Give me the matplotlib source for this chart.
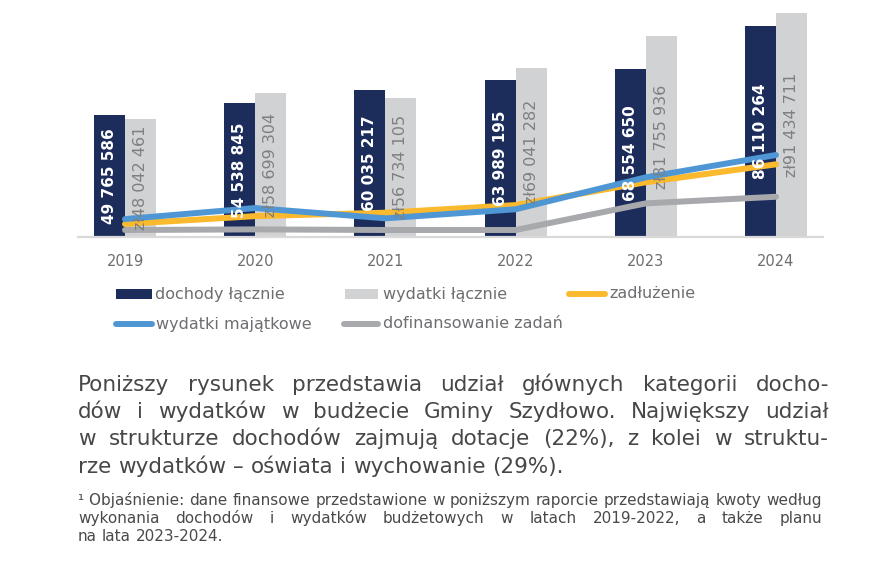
import numpy as np
import matplotlib
matplotlib.use("Agg")
import matplotlib.pyplot as plt
from matplotlib.lines import Line2D
from matplotlib.patches import Rectangle

# ---------------- data ----------------
years = ["2019", "2020", "2021", "2022", "2023", "2024"]
dochody = [49765586, 54538845, 60035217, 63989195, 68554650, 86110264]
wydatki = [48042461, 58699304, 56734105, 69041282, 81755936, 91434711]
zadluzenie = [5.3e6, 8.5e6, 9.9e6, 13.0e6, 22.3e6, 29.6e6]
majatkowe = [7.3e6, 11.8e6, 7.6e6, 11.3e6, 24.3e6, 33.4e6]
dofinansowanie = [2.85e6, 3.1e6, 2.85e6, 2.85e6, 13.7e6, 16.4e6]

legend_labels = ["dochody łącznie", "wydatki łącznie", "zadłużenie",
                 "wydatki majątkowe", "dofinansowanie zadań"]

body_lines = [
    "Poniższy rysunek przedstawia udział głównych kategorii docho-",
    "dów i wydatków w budżecie Gminy Szydłowo. Największy udział",
    "w strukturze dochodów zajmują dotacje (22%), z kolei w struktu-",
    "rze wydatków – oświata i wychowanie (29%).",
]
foot_lines = [
    "¹\u00a0Objaśnienie: dane finansowe przedstawione w poniższym raporcie przedstawiają kwoty według",
    "wykonania dochodów i wydatków budżetowych w latach 2019-2022, a także planu",
    "na lata 2023-2024.",
]

# ---------------- style ----------------
NAVY = "#1c2d5c"
LIGHT = "#d1d2d3"
YELLOW = "#fbb92d"
BLUE = "#4f97d4"
GRAY = "#a7a9ac"
TXT_GRAY = "#6d6e71"
plt.rcParams["font.family"] = ["DejaVu Sans"]

W, H = 876, 576
fig = plt.figure(figsize=(W / 100, H / 100), dpi=100)


def fx(px):
    return px / W


def fy(py):
    return 1 - py / H


ax = fig.add_axes([fx(78), fy(237), fx(823) - fx(78), 237 / H])
x = np.arange(len(years))
bw = 0.238

ax.bar(x - bw / 2, dochody, bw, color=NAVY, zorder=2)
ax.bar(x + bw / 2, wydatki, bw, color=LIGHT, zorder=2)

lw = 4.3
ax.plot(x, dofinansowanie, color=GRAY, lw=lw, solid_capstyle="round", zorder=3)
ax.plot(x, zadluzenie, color=YELLOW, lw=lw, solid_capstyle="round", zorder=3)
ax.plot(x, majatkowe, color=BLUE, lw=lw, solid_capstyle="round", zorder=3)


def fmt(v):
    return f"{v:,}".replace(",", " ")


for i in range(len(years)):
    ax.text(x[i] - bw / 2, dochody[i] / 2, fmt(dochody[i]), rotation=90,
            ha="center", va="center", color="white", fontweight="bold",
            fontsize=11, zorder=5)
    ax.text(x[i] + bw / 2, wydatki[i] / 2, "zł" + fmt(wydatki[i]), rotation=90,
            ha="center", va="center", color="#7f7f7f",
            fontsize=11.5, zorder=5)

ax.set_xlim(-0.361, 5.361)
ax.set_ylim(0, 96.54e6)
ax.set_yticks([])
ax.set_xticks(x)
ax.set_xticklabels(years, color=TXT_GRAY, fontsize=10.5)
ax.tick_params(axis="x", length=0, pad=12)
for s in ["top", "left", "right"]:
    ax.spines[s].set_visible(False)
ax.spines["bottom"].set_color("#d9d9d9")
ax.spines["bottom"].set_linewidth(1.6)
ax.patch.set_alpha(0)

# ---------------- legend (manual) ----------------
leg_items = [
    ("rect", NAVY, 116, 152, 155, 294),
    ("rect", LIGHT, 345, 378, 383, 294),
    ("line", YELLOW, 569, 605, 609, 294),
    ("line", BLUE, 116, 152, 156, 324),
    ("line", GRAY, 344, 378, 383, 324),
]
for (kind, col, a, b, tx, yy), lab in zip(leg_items, legend_labels):
    if kind == "rect":
        fig.add_artist(Rectangle((fx(a), fy(yy + 5)), fx(b) - fx(a), 10 / H,
                                 transform=fig.transFigure, color=col, lw=0))
    else:
        fig.add_artist(Line2D([fx(a), fx(b)], [fy(yy), fy(yy)],
                              transform=fig.transFigure, color=col, lw=lw,
                              solid_capstyle="round"))
    fig.text(fx(tx), fy(yy), lab, ha="left", va="center", color=TXT_GRAY,
             fontsize=11.5)

# ---------------- justified text ----------------
renderer = fig.canvas.get_renderer()


def justify(lines, x0, x1, baselines, size, color):
    for li, (line, yb) in enumerate(zip(lines, baselines)):
        words = line.split(" ")
        ts = [fig.text(0, fy(yb), w, fontsize=size, color=color,
                       ha="left", va="baseline")
              for w in words]
        widths = [t.get_window_extent(renderer).width for t in ts]
        t1 = fig.text(0, 0, "a a", fontsize=size)
        t2 = fig.text(0, 0, "aa", fontsize=size)
        space = (t1.get_window_extent(renderer).width
                 - t2.get_window_extent(renderer).width)
        t1.remove()
        t2.remove()
        if li == len(lines) - 1:
            gap = space
        else:
            gap = (x1 - x0 - sum(widths)) / max(len(words) - 1, 1)
        pos = x0
        for t, w in zip(ts, widths):
            t.set_x(fx(pos))
            pos += w + gap


justify(body_lines, 78, 829, [391, 418, 445, 473], 15.5, "#47474a")
justify(foot_lines, 78, 822, [505, 523, 541], 11, "#4a4a4c")

fig.savefig("out.png", dpi=100)
